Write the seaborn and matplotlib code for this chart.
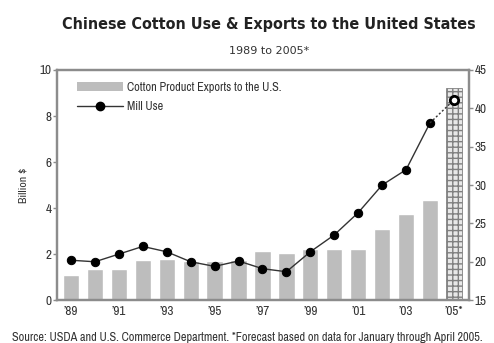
import matplotlib
matplotlib.use("Agg")
import matplotlib.pyplot as plt
import seaborn as sns
import pandas as pd
from matplotlib.lines import Line2D
from matplotlib.patches import Patch
from matplotlib import font_manager

years = list(range(1989, 2006))
exports_bn = [1.1, 1.35, 1.35, 1.75, 1.8, 1.7, 1.7, 1.75, 2.15, 2.05, 2.2, 2.2, 2.2, 3.1, 3.75, 4.35, 9.2]
mill_use = [20.2, 20.0, 21.0, 22.0, 21.3, 20.0, 19.4, 20.1, 19.1, 18.7, 21.3, 23.5, 26.4, 30.0, 32.0, 38.1, 41.1]
tick_years = [1989, 1991, 1993, 1995, 1997, 1999, 2001, 2003, 2005]
tick_labels = ["\u201989", "\u201991", "\u201993", "\u201995", "\u201997", "\u201999", "\u201901", "\u201903", "\u201905*"]

sns.set_theme(style="white")
installed = {f.name for f in font_manager.fontManager.ttflist}


def pick(*families):
    for fam in families:
        if fam in installed:
            return fam
    return "DejaVu Sans"


body_font = pick("Archivo Narrow", "PT Sans Narrow", "Roboto Condensed", "Liberation Sans Narrow")
plt.rcParams["font.family"] = [body_font, "DejaVu Sans"]

df = pd.DataFrame({"year": years, "exports": exports_bn, "mill": mill_use})

fig = plt.figure(figsize=(4.94, 3.43), dpi=100)
ax = fig.add_axes([0.1154, 0.125, 0.8340, 0.671])

spine_gray = "#8c8c8c"
bar_gray = "#bdbdbd"
text_col = "#333333"

sns.barplot(data=df, x="year", y="exports", native_scale=True, width=0.68,
            color=bar_gray, saturation=1, ax=ax, zorder=2)
# forecast year bar drawn with a grid hatch
last = ax.patches[-1]
last.set_facecolor("#e8e8e8")
last.set_edgecolor("#808080")
last.set_hatch("+++")
last.set_linewidth(0.6)

ax.set_xlim(1988.415, 2005.63)
ax.set_ylim(0, 10)
ax.set_yticks([0, 2, 4, 6, 8, 10])
ax.set_xticks(tick_years)
ax.set_xticklabels(tick_labels)
ax.set_xlabel("")
ax.set_ylabel("Billion $", fontsize=8.5, labelpad=8, color=text_col)

ax2 = ax.twinx()
solid = df[df["year"] <= 2004]
proj = df[df["year"] >= 2004]
sns.lineplot(data=solid, x="year", y="mill", color="#333333", lw=1.0, ax=ax2,
             marker="o", markersize=6, markerfacecolor="black", markeredgecolor="black", zorder=3)
sns.lineplot(data=proj, x="year", y="mill", color="#333333", lw=1.0, ls=(0, (1.5, 1.5)), ax=ax2, zorder=3)
fc = df[df["year"] == 2005]
ax2.plot(fc["year"], fc["mill"], marker="o", ms=6, mfc="white", mec="black", mew=2.0, ls="none", zorder=4)
ax2.set_ylim(15, 45)
ax2.set_yticks([15, 20, 25, 30, 35, 40, 45])
ax2.set_ylabel("")
ax2.set_xlim(1988.415, 2005.63)

for a in (ax, ax2):
    for s in a.spines.values():
        s.set_color(spine_gray)
        s.set_linewidth(1.6)
    a.tick_params(axis="y", length=3, width=1, color=spine_gray, labelsize=9.5, pad=1, labelcolor=text_col)
ax.tick_params(axis="x", length=0, labelsize=9.5, pad=4, labelcolor=text_col)
ax.tick_params(axis="y", left=True, direction="out")
ax2.tick_params(axis="y", right=True, direction="out")

handles = [Patch(facecolor=bar_gray, edgecolor="none"),
           Line2D([], [], color="#333333", lw=1.0, marker="o", ms=6, mfc="black", mec="black")]
ax.legend(handles, ["Cotton Product Exports to the U.S.", "Mill Use"], loc="upper left",
          bbox_to_anchor=(0.03, 0.98), frameon=False, fontsize=8.8, handlelength=3.8,
          handletextpad=0.3, labelspacing=0.7, borderaxespad=0.2, labelcolor=text_col)

fig.text(0.545, 0.93, "Chinese Cotton Use & Exports to the United States",
         ha="center", va="center", fontsize=11.5, fontweight="bold", fontstretch="condensed",
         color="#222222", family=["DejaVu Sans"])
fig.text(0.545, 0.851, "1989 to 2005*", ha="center", va="center", fontsize=8, color=text_col,
         family=["DejaVu Sans"])
fig.text(0.5, 0.015, "Source: USDA and U.S. Commerce Department. *Forecast based on data for January through April 2005.",
         ha="center", va="center", fontsize=8.8, color=text_col)

fig.savefig("out.png", dpi=100)
